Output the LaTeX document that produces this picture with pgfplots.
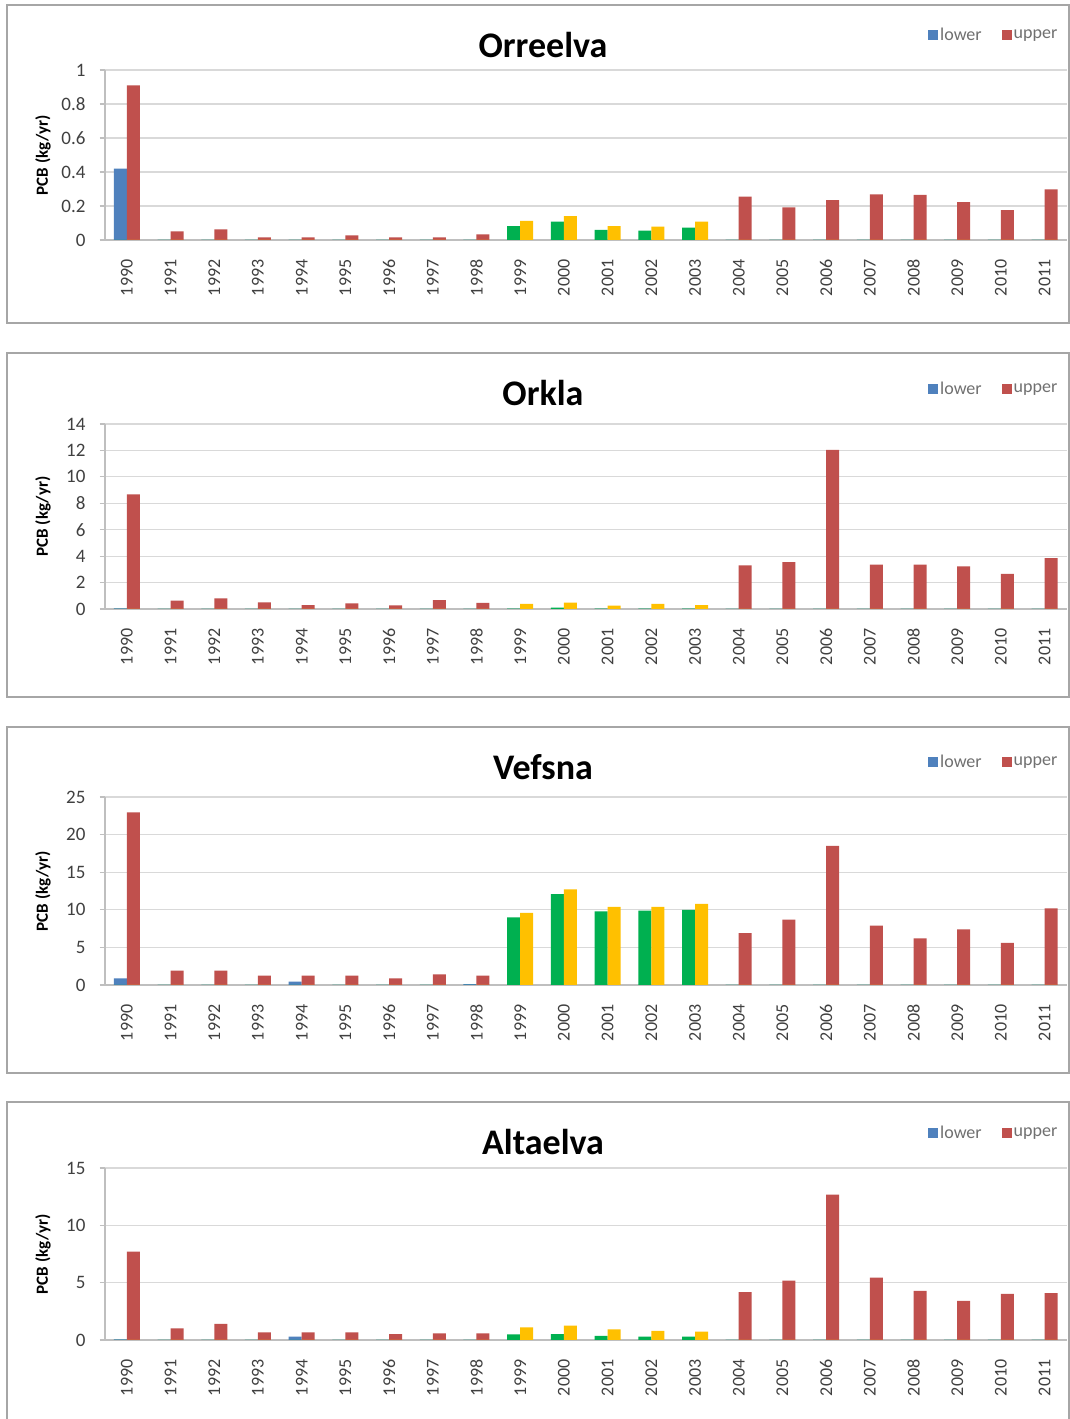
\documentclass[border=0pt]{standalone}
\usepackage{pgfplots}
\pgfplotsset{compat=1.18}
\usepackage{pgfplotstable}
\usepackage{fontspec}
\setmainfont{Carlito}
\definecolor{cLow}{HTML}{4F81BD}
\definecolor{cUp}{HTML}{C0504D}
\definecolor{cGr}{HTML}{00B050}
\definecolor{cYe}{HTML}{FFC000}
\definecolor{cGrid}{HTML}{D9D9D9}
\definecolor{cAxis}{HTML}{BFBFBF}
\definecolor{cFrame}{HTML}{A6A6A6}
\definecolor{cTxt}{HTML}{404040}

% x: 0 = 1990 ... 21 = 2011
\pgfplotstableread{
x lower upper green yellow
0 0.42 0.91 0 0
1 0 0.050 0 0
2 0 0.063 0 0
3 0 0.016 0 0
4 0 0.016 0 0
5 0 0.027 0 0
6 0 0.016 0 0
7 0 0.016 0 0
8 0 0.033 0 0
9 0 0 0.082 0.113
10 0 0 0.108 0.141
11 0 0 0.059 0.082
12 0 0 0.055 0.078
13 0 0 0.072 0.108
14 0 0.255 0 0
15 0 0.192 0 0
16 0 0.235 0 0
17 0 0.269 0 0
18 0 0.265 0 0
19 0 0.222 0 0
20 0 0.176 0 0
21 0 0.298 0 0
}\orre

\pgfplotstableread{
x lower upper green yellow
0 0.05 8.67 0 0
1 0 0.63 0 0
2 0 0.81 0 0
3 0 0.51 0 0
4 0 0.30 0 0
5 0 0.43 0 0
6 0 0.28 0 0
7 0 0.68 0 0
8 0 0.46 0 0
9 0 0 0.03 0.38
10 0 0 0.10 0.48
11 0 0 0.02 0.25
12 0 0 0.03 0.38
13 0 0 0.03 0.30
14 0 3.30 0 0
15 0 3.55 0 0
16 0 12.05 0 0
17 0 3.35 0 0
18 0 3.35 0 0
19 0 3.22 0 0
20 0 2.66 0 0
21 0 3.85 0 0
}\orkla

\pgfplotstableread{
x lower upper green yellow
0 0.89 22.96 0 0
1 0 1.91 0 0
2 0 1.91 0 0
3 0 1.24 0 0
4 0.44 1.24 0 0
5 0 1.24 0 0
6 0 0.89 0 0
7 0 1.42 0 0
8 0.10 1.24 0 0
9 0 0 9.0 9.6
10 0 0 12.1 12.7
11 0 0 9.8 10.4
12 0 0 9.9 10.4
13 0 0 10.0 10.8
14 0 6.9 0 0
15 0 8.7 0 0
16 0 18.5 0 0
17 0 7.9 0 0
18 0 6.2 0 0
19 0 7.4 0 0
20 0 5.6 0 0
21 0 10.2 0 0
}\vefsna

\pgfplotstableread{
x lower upper green yellow
0 0.05 7.7 0 0
1 0 1.02 0 0
2 0 1.40 0 0
3 0 0.67 0 0
4 0.29 0.67 0 0
5 0 0.67 0 0
6 0 0.52 0 0
7 0 0.58 0 0
8 0 0.58 0 0
9 0 0 0.50 1.10
10 0 0 0.52 1.25
11 0 0 0.35 0.93
12 0 0 0.29 0.79
13 0 0 0.29 0.73
14 0 4.17 0 0
15 0 5.18 0 0
16 0 12.67 0 0
17 0 5.45 0 0
18 0 4.28 0 0
19 0 3.41 0 0
20 0 4.02 0 0
21 0 4.08 0 0
}\alta

\pgfplotsset{
  panel/.style={
    scale only axis, width=961.5pt, anchor=south west,
    xmin=-0.5, xmax=21.5, ymin=0,
    xtick={0,...,21},
    xticklabels={1990,1991,1992,1993,1994,1995,1996,1997,1998,1999,2000,2001,2002,2003,2004,2005,2006,2007,2008,2009,2010,2011},
    /pgf/number format/assume math mode=true,
    x tick label style={yshift=-11pt, rotate=90, anchor=east, font=\fontsize{18}{18}\selectfont, text=cTxt},
    y tick label style={xshift=-11pt, font=\fontsize{19}{19}\selectfont, text=cTxt},
    ymajorgrids, grid style={cGrid, line width=1.2pt},
    axis x line*=bottom, axis y line*=left,
    axis line style={cAxis, line width=1.2pt, -},
    major x tick style={draw=none},
    major y tick style={cAxis, line width=1.2pt},
    tick align=outside, major tick length=5pt,
    ylabel={\textbf{PCB (kg/yr)}},
    every axis y label/.style={at={(rel axis cs:0,0.5)}, xshift=-62pt, rotate=90, anchor=center, font=\fontsize{17}{17}\selectfont},
    legend style={at={(rel axis cs:1,1)}, anchor=east, xshift=-4pt, yshift=35pt, draw=none, fill=none,
      legend columns=2, font=\fontsize{18}{18}\selectfont, text=cTxt!75,
      /tikz/every even column/.append style={column sep=18pt}},
  },
  lowbar/.style={ybar, bar width=13pt, bar shift=-6.5pt, fill=cLow, draw=none,
    legend image code/.code={\fill[cLow] (-2pt,-5pt) rectangle (8pt,5pt);}},
  upbar/.style={ybar, bar width=13pt, bar shift=6.5pt, fill=cUp, draw=none,
    legend image code/.code={\fill[cUp] (-2pt,-5pt) rectangle (8pt,5pt);}},
  grbar/.style={ybar, bar width=13pt, bar shift=-6.5pt, fill=cGr, draw=none, forget plot},
  yebar/.style={ybar, bar width=13pt, bar shift=6.5pt, fill=cYe, draw=none, forget plot},
}

\begin{document}
\begin{tikzpicture}
\useasboundingbox (0pt,0pt) rectangle (1070pt,1419pt);
\fill[white] (0pt,0pt) rectangle (1070pt,1419pt);

% frames
\draw[cFrame, line width=2pt] (7pt,1096pt) rectangle (1069pt,1414pt);
\draw[cFrame, line width=2pt] (7pt,722pt) rectangle (1069pt,1066pt);
\draw[cFrame, line width=2pt] (7pt,346pt) rectangle (1069pt,692pt);
\draw[cFrame, line width=2pt] (7pt,-20pt) rectangle (1069pt,317pt);

% Panel 1: Orreelva
\begin{axis}[panel, at={(105pt,1179pt)}, height=170pt, ymax=1, ytick={0,0.2,...,1.0}]
\addplot[lowbar] table[x=x,y=lower] {\orre};
\addplot[upbar] table[x=x,y=upper] {\orre};
\addplot[grbar] table[x=x,y=green] {\orre};
\addplot[yebar] table[x=x,y=yellow] {\orre};
\legend{lower,upper}
\end{axis}
\node[font=\fontsize{36}{36}\selectfont\bfseries] at (543pt,1374pt) {Orreelva};

% Panel 2: Orkla
\begin{axis}[panel, at={(105pt,810pt)}, height=185pt, ymax=14, ytick={0,2,...,14}]
\addplot[lowbar] table[x=x,y=lower] {\orkla};
\addplot[upbar] table[x=x,y=upper] {\orkla};
\addplot[grbar] table[x=x,y=green] {\orkla};
\addplot[yebar] table[x=x,y=yellow] {\orkla};
\legend{lower,upper}
\end{axis}
\node[font=\fontsize{36}{36}\selectfont\bfseries] at (543pt,1026pt) {Orkla};

% Panel 3: Vefsna
\begin{axis}[panel, at={(105pt,434pt)}, height=188pt, ymax=25, ytick={0,5,...,25}]
\addplot[lowbar] table[x=x,y=lower] {\vefsna};
\addplot[upbar] table[x=x,y=upper] {\vefsna};
\addplot[grbar] table[x=x,y=green] {\vefsna};
\addplot[yebar] table[x=x,y=yellow] {\vefsna};
\legend{lower,upper}
\end{axis}
\node[font=\fontsize{36}{36}\selectfont\bfseries] at (543pt,652pt) {Vefsna};

% Panel 4: Altaelva
\begin{axis}[panel, at={(105pt,79pt)}, height=172pt, ymax=15, ytick={0,5,...,15}]
\addplot[lowbar] table[x=x,y=lower] {\alta};
\addplot[upbar] table[x=x,y=upper] {\alta};
\addplot[grbar] table[x=x,y=green] {\alta};
\addplot[yebar] table[x=x,y=yellow] {\alta};
\legend{lower,upper}
\end{axis}
\node[font=\fontsize{36}{36}\selectfont\bfseries] at (543pt,277pt) {Altaelva};
\end{tikzpicture}
\end{document}
